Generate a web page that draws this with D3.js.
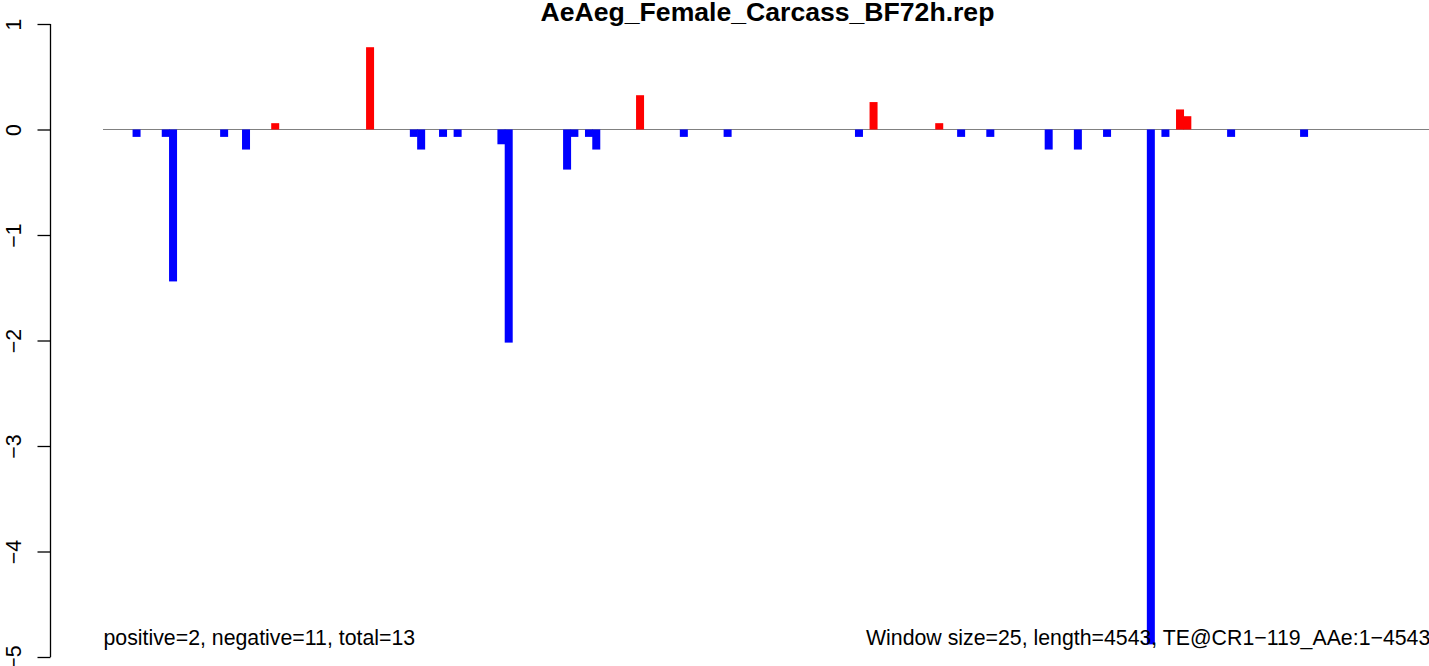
<!DOCTYPE html>
<html>
<head>
<meta charset="utf-8">
<script src="https://cdn.jsdelivr.net/npm/d3@7"></script>
<style>
  html, body { margin: 0; padding: 0; background: #fff; }
  svg { display: block; }
  text { font-family: "Liberation Sans", Arial, Helvetica, sans-serif; }
</style>
</head>
<body>
<svg id="chart" width="1429" height="666"></svg>
<script>
// ---- data ----
const titleText = "AeAeg_Female_Carcass_BF72h.rep";
const seqLength = 4543;
const windowSize = 25;
// window positions (bp) of the bars
const positions = [115, 215, 240, 415, 490, 590, 915, 1065, 1090, 1165, 1215, 1365, 1390,
  1590, 1615, 1665, 1690, 1840, 1990, 2140, 2590, 2640, 2865, 2940, 3040, 3240, 3340,
  3440, 3590, 3640, 3690, 3715, 3865, 4115];
const values = [-0.07, -0.07, -1.44, -0.07, -0.19, 0.06, 0.78, -0.07, -0.19, -0.07, -0.07, -0.14, -2.02,
  -0.38, -0.07, -0.07, -0.19, 0.325, -0.07, -0.07, -0.07, 0.26, 0.06, -0.07, -0.07, -0.19, -0.19,
  -0.07, -4.88, -0.07, 0.19, 0.126, -0.07, -0.07];
const yTicks = [1, 0, -1, -2, -3, -4, -5];
const leftNote = "positive=2, negative=11, total=13";
const rightNote = "Window size=25, length=4543, TE@CR1\u2212119_AAe:1\u22124543";

// ---- scales ----
const svg = d3.select("#chart");
const x = d3.scaleLinear().domain([0, seqLength]).range([103, 1429]);
const y = d3.scaleLinear().domain([-5, 1]).range([657, 24]);

// title
svg.append("text")
  .attr("x", 767.5).attr("y", 20.5)
  .attr("text-anchor", "middle")
  .attr("font-weight", "bold")
  .attr("font-size", 26.6)
  .text(titleText);

// y axis
const yAxis = d3.axisLeft(y)
  .tickValues(yTicks)
  .tickSize(13)
  .tickPadding(0)
  .tickFormat(d => d < 0 ? "\u2212" + Math.abs(d) : String(d));
const gy = svg.append("g").attr("transform", "translate(50.5,0)").call(yAxis);
gy.select(".domain").attr("d", `M0,${y(1)}V${y(-5)}`).attr("stroke", "#000").attr("stroke-width", 1.3);
gy.selectAll(".tick line").attr("stroke", "#000").attr("stroke-width", 1.3);
gy.selectAll(".tick text")
  .attr("font-size", 21.3)
  .attr("fill", "#000")
  .attr("font-family", "'Liberation Sans', Arial, sans-serif")
  .attr("text-anchor", "middle")
  .attr("dy", 0)
  .attr("x", null)
  .attr("transform", "translate(-29.5,0) rotate(-90)");

// zero line
svg.append("line")
  .attr("x1", x(0)).attr("x2", x(seqLength))
  .attr("y1", y(0)).attr("y2", y(0))
  .attr("stroke", "#808080").attr("stroke-width", 1.2);

// bars
const barW = 8;
svg.append("g").selectAll("rect")
  .data(positions.map((p, i) => ({ p, v: values[i] })))
  .join("rect")
  .attr("x", d => x(d.p) - barW / 2)
  .attr("width", barW)
  .attr("y", d => Math.min(y(0), y(d.v)))
  .attr("height", d => Math.abs(y(d.v) - y(0)))
  .attr("fill", d => d.v > 0 ? "#FF0000" : "#0000FF");

// notes
svg.append("text")
  .attr("x", 103.5).attr("y", 645)
  .attr("font-size", 21.3)
  .text(leftNote);
svg.append("text")
  .attr("x", 866).attr("y", 645)
  .attr("font-size", 21.3)
  .text(rightNote);
</script>
</body>
</html>
